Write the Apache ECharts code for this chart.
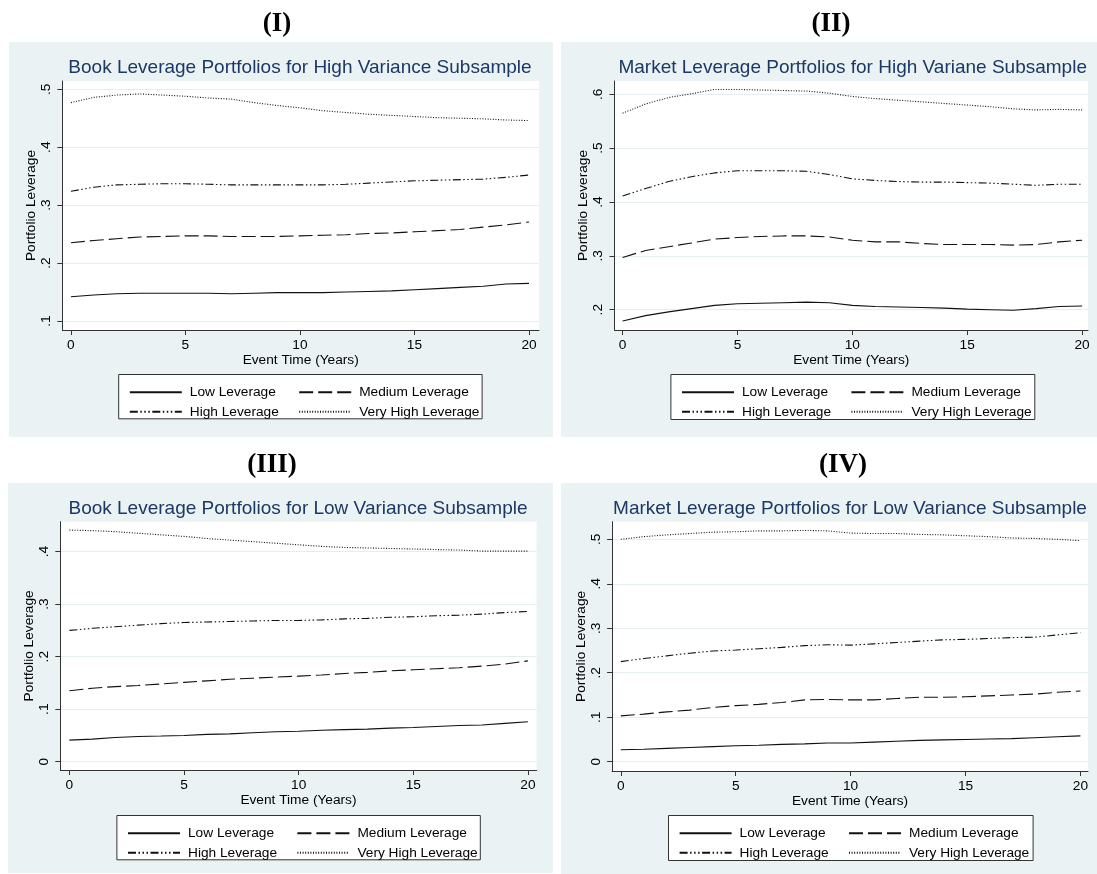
<!DOCTYPE html>
<html><head><meta charset="utf-8">
<script src="https://cdn.jsdelivr.net/npm/echarts@6/dist/echarts.min.js"></script>
<style>html,body{margin:0;padding:0;background:#fff}#c{width:1097px;height:874px}</style>
</head><body><div id="c"></div>
<script>
const years = [0,1,2,3,4,5,6,7,8,9,10,11,12,13,14,15,16,17,18,19,20];
const seriesNames = ['Low Leverage','Medium Leverage','High Leverage','Very High Leverage'];
const headings = ['(I)','(II)','(III)','(IV)'];
const titles = [
  'Book Leverage Portfolios for High Variance Subsample',
  'Market Leverage Portfolios for High Variane Subsample',
  'Book Leverage Portfolios for Low Variance Subsample',
  'Market Leverage Portfolios for Low Variance Subsample'
];
const xTitle = 'Event Time (Years)';
const yTitle = 'Portfolio Leverage';
const xTicks = [0,5,10,15,20];
const yTicksI = [0.1,0.2,0.3,0.4,0.5];
const yTicksII = [0.2,0.3,0.4,0.5,0.6];
const yTicksIII = [0,0.1,0.2,0.3,0.4];
const yTicksIV = [0,0.1,0.2,0.3,0.4,0.5];

// Panel I: Book leverage, high variance
const bookHighLow   = [.142,.145,.147,.148,.148,.148,.148,.147,.148,.149,.149,.149,.150,.151,.152,.154,.156,.158,.160,.164,.165];
const bookHighMed   = [.235,.239,.242,.245,.246,.247,.247,.246,.246,.246,.247,.248,.249,.251,.252,.254,.256,.258,.262,.266,.271];
const bookHighHigh  = [.324,.331,.335,.336,.337,.337,.336,.335,.335,.335,.335,.335,.336,.338,.340,.342,.343,.344,.345,.348,.352];
const bookHighVHigh = [.477,.486,.490,.492,.490,.488,.485,.483,.477,.472,.468,.463,.460,.457,.455,.453,.451,.450,.449,.447,.446];
// Panel II: Market leverage, high variance
const mktHighLow   = [.179,.189,.196,.202,.208,.211,.212,.213,.214,.213,.208,.206,.205,.204,.203,.201,.200,.199,.202,.206,.207];
const mktHighMed   = [.297,.310,.317,.324,.331,.334,.336,.337,.337,.335,.329,.326,.326,.323,.321,.321,.321,.320,.321,.326,.329];
const mktHighHigh  = [.411,.425,.438,.447,.454,.458,.458,.458,.457,.451,.443,.440,.438,.437,.437,.436,.435,.433,.431,.433,.433];
const mktHighVHigh = [.565,.582,.594,.601,.609,.609,.608,.607,.606,.602,.596,.592,.589,.586,.583,.580,.577,.573,.571,.572,.571];
// Panel III: Book leverage, low variance
const bookLowLow   = [.041,.043,.046,.048,.049,.050,.052,.053,.055,.057,.058,.060,.061,.062,.064,.065,.067,.069,.070,.073,.076];
const bookLowMed   = [.135,.140,.143,.145,.148,.151,.154,.157,.159,.161,.163,.165,.168,.170,.173,.175,.177,.179,.182,.186,.192];
const bookLowHigh  = [.250,.254,.257,.260,.263,.265,.266,.267,.268,.269,.269,.270,.272,.273,.275,.276,.278,.279,.281,.284,.286];
const bookLowVHigh = [.441,.440,.438,.435,.432,.429,.425,.422,.419,.416,.413,.410,.408,.407,.406,.405,.404,.403,.401,.401,.401];
// Panel IV: Market leverage, low variance
const mktLowLow   = [.027,.028,.030,.032,.034,.036,.037,.039,.040,.042,.042,.044,.046,.048,.049,.050,.051,.052,.054,.056,.058];
const mktLowMed   = [.103,.107,.112,.116,.122,.126,.129,.133,.139,.140,.139,.139,.142,.145,.145,.146,.148,.150,.152,.156,.159];
const mktLowHigh  = [.225,.232,.238,.244,.249,.251,.254,.257,.261,.263,.262,.265,.268,.271,.274,.275,.277,.279,.280,.285,.290];
const mktLowVHigh = [.500,.506,.510,.513,.516,.517,.519,.519,.520,.519,.514,.513,.513,.511,.510,.508,.506,.503,.502,.500,.497];

const panelData = [
  [bookHighLow, bookHighMed, bookHighHigh, bookHighVHigh],
  [mktHighLow, mktHighMed, mktHighHigh, mktHighVHigh],
  [bookLowLow, bookLowMed, bookLowHigh, bookLowVHigh],
  [mktLowLow, mktLowMed, mktLowHigh, mktLowVHigh]
];
const panelYTicks = [yTicksI, yTicksII, yTicksIII, yTicksIV];

const FONT = '"Liberation Sans", Arial, sans-serif';
const SERIF = '"Liberation Serif", "Times New Roman", serif';
const BG = '#eaf2f3';
const AX = '#333';
const lineTypes = ['solid', [14,5], [8,2.5,1.5,2.5,1.5,2.5,1.5,2.5], [1,1.6]];

const layout = [
  {bg:[9,42,544,395], grid:[62.4,81,476.6,249], x:[-0.371,20.437], y:[0.0845,0.5143], head:[277,24], title:[300,67.5], box:[118.2,374,363.4,44.3]},
  {bg:[561,42,536,395], grid:[614.5,81,473.5,249], x:[-0.353,20.257], y:[0.1623,0.6247], head:[831,24], title:[852.7,67.5], box:[670.4,374,363.9,45]},
  {bg:[8,483,545,390], grid:[60.3,521.7,476.3,248.3], x:[-0.397,20.38], y:[-0.0158,0.457], head:[272,465], title:[298,509], box:[116.4,815,363.4,44.3]},
  {bg:[561,483,536,391], grid:[612.1,521.7,475.9,249.3], x:[-0.379,20.33], y:[-0.0209,0.5396], head:[843,465], title:[850,509], box:[668,815,364.6,45]}
];

function fmtY(v){ if (Math.abs(v) < 1e-9) return '0'; return String(+v.toFixed(2)).replace(/^0/, ''); }

const grids=[], xAxes=[], yAxes=[], series=[], legends=[], graphics=[];
layout.forEach((L,p)=>{
  graphics.push({type:'rect', z:-100, shape:{x:L.bg[0],y:L.bg[1],width:L.bg[2],height:L.bg[3]}, style:{fill:BG}});
  graphics.push({type:'rect', z:1, shape:{x:L.box[0]+0.5,y:L.box[1]+0.5,width:L.box[2],height:L.box[3]}, style:{fill:'#fff', stroke:AX, lineWidth:1}});
  graphics.push({type:'text', z:10, x:L.head[0], y:L.head[1], style:{text:headings[p], align:'center', verticalAlign:'middle', fontFamily:SERIF, fontWeight:'bold', fontSize:27, fill:'#000'}});
  graphics.push({type:'text', z:10, x:L.title[0], y:L.title[1], style:{text:titles[p], align:'center', verticalAlign:'middle', fontFamily:FONT, fontSize:19, fill:'#1c3864'}});
  grids.push({left:L.grid[0], top:L.grid[1], width:L.grid[2], height:L.grid[3], show:true, backgroundColor:'#fff', borderWidth:0, containLabel:false});
  xAxes.push({type:'value', gridIndex:p, min:L.x[0], max:L.x[1],
    name:xTitle, nameLocation:'middle', nameGap:21, nameTextStyle:{fontFamily:FONT, fontSize:13.7, color:'#000'},
    axisLine:{show:true, onZero:false, lineStyle:{color:AX, width:1}},
    axisTick:{show:true, inside:false, length:5, customValues:xTicks, lineStyle:{color:AX}},
    axisLabel:{show:true, customValues:xTicks, margin:8, fontFamily:FONT, fontSize:13.7, color:'#000'},
    splitLine:{show:false}});
  yAxes.push({type:'value', gridIndex:p, min:L.y[0], max:L.y[1],
    name:yTitle, nameLocation:'middle', nameGap:22, nameRotate:90, nameTextStyle:{fontFamily:FONT, fontSize:13.7, color:'#000'},
    axisLine:{show:true, onZero:false, lineStyle:{color:AX, width:1}},
    axisTick:{show:true, inside:false, length:5, customValues:panelYTicks[p], lineStyle:{color:AX}},
    axisLabel:{show:true, customValues:panelYTicks[p], rotate:90, margin:9, fontFamily:FONT, fontSize:13.7, color:'#000', formatter:fmtY},
    splitLine:{show:true, lineStyle:{color:'#e4edf0', width:1.2}}});
  panelData[p].forEach((vals,s)=>{
    series.push({type:'line', name:seriesNames[s], xAxisIndex:p, yAxisIndex:p, symbol:'none', silent:true,
      color:'#111', itemStyle:{color:'#111'},
      data: years.map((x,i)=>[x, vals[i]]),
      lineStyle:{color:'#111', width:1.1, type:lineTypes[s]}});
  });
  const legCommon = {orient:'vertical', selectedMode:false, itemWidth:52, itemHeight:14, itemGap:5.5, top:L.box[1]+6.3, z:5,
    itemStyle:{color:'rgba(0,0,0,0)', borderWidth:0, opacity:0},
    textStyle:{fontFamily:FONT, fontSize:13.7, color:'#000', lineHeight:14, padding:[0,0,0,3]}};
  legends.push(Object.assign({}, legCommon, {left:L.box[0]+5.6, data:[seriesNames[0], seriesNames[2]]}));
  legends.push(Object.assign({}, legCommon, {left:L.box[0]+175, data:[seriesNames[1], seriesNames[3]]}));
});

const chart = echarts.init(document.getElementById('c'), null, {renderer:'canvas'});
chart.setOption({animation:false, backgroundColor:'#fff', grid:grids, xAxis:xAxes, yAxis:yAxes, series:series, legend:legends, graphic:{elements:graphics}});
</script></body></html>
